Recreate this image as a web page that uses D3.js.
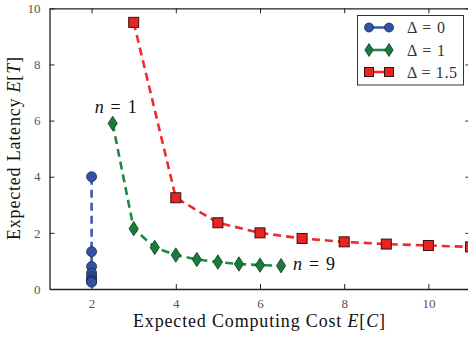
<!DOCTYPE html>
<html>
<head>
<meta charset="utf-8">
<script src="https://cdn.jsdelivr.net/npm/d3@7"></script>
<style>
  html, body { margin: 0; padding: 0; background: #fff; }
  svg { display: block; }
  text { font-family: "Liberation Serif", "DejaVu Serif", serif; }
</style>
</head>
<body>
<svg id="chart" width="468" height="337"></svg>
<script>
// Expected computing cost vs. expected latency for three values of Δ (n = 1 … 9)
const costDelta0 = [2, 2, 2, 2, 2, 2, 2, 2, 2];
const latencyDelta0 = [4.0, 1.33, 0.8, 0.57, 0.44, 0.36, 0.31, 0.27, 0.24];

const costDelta1 = [2.5, 3, 3.5, 4, 4.5, 5, 5.5, 6, 6.5];
const latencyDelta1 = [5.9, 2.15, 1.48, 1.21, 1.05, 0.96, 0.89, 0.85, 0.83];

const costDelta15 = [3, 4, 5, 6, 7, 8, 9, 10, 11];
const latencyDelta15 = [9.5, 3.25, 2.36, 2.0, 1.8, 1.68, 1.6, 1.55, 1.5];

const xTicks = [2, 4, 6, 8, 10];
const yTicks = [0, 2, 4, 6, 8, 10];
const legendLabels = ["\u0394 = 0", "\u0394 = 1", "\u0394 = 1.5"];

const svg = d3.select("#chart");
const plotLeft = 49.5, plotRight = 470.5, plotTop = 8.3, plotBottom = 289;

const x = d3.scaleLinear().domain([1, 11]).range([plotLeft, plotRight]);
const y = d3.scaleLinear().domain([0, 10]).range([plotBottom, plotTop]);

const series = [
  { cost: costDelta0, lat: latencyDelta0, line: "#3a5bb0", fill: "#3352a6", marker: "circle" },
  { cost: costDelta1, lat: latencyDelta1, line: "#1c8a45", fill: "#1b7a3c", marker: "diamond" },
  { cost: costDelta15, lat: latencyDelta15, line: "#ee2a2a", fill: "#e82323", marker: "square" }
];

svg.append("defs").append("clipPath").attr("id", "plotClip")
  .append("rect").attr("x", plotLeft).attr("y", plotTop)
  .attr("width", plotRight - plotLeft).attr("height", plotBottom - plotTop);

// Frame with inward ticks on all four sides
const tickColor = "#222";
const axisBottom = d3.axisBottom(x).tickValues(xTicks).tickSizeInner(-5).tickSizeOuter(0).tickPadding(10);
const axisLeft = d3.axisLeft(y).tickValues(yTicks).tickSizeInner(-5).tickSizeOuter(0).tickPadding(9);
const axisTop = d3.axisTop(x).tickValues(xTicks).tickSizeInner(-5).tickSizeOuter(0).tickFormat("");
const axisRight = d3.axisRight(y).tickValues(yTicks).tickSizeInner(-5).tickSizeOuter(0).tickFormat("");

function styleAxis(g) {
  g.attr("font-family", null);
  g.select(".domain").attr("stroke", tickColor).attr("stroke-width", 1.3);
  g.selectAll(".tick line").attr("stroke", tickColor).attr("stroke-width", 1);
  g.selectAll(".tick text").attr("fill", "#555").attr("font-size", 13);
}

svg.append("g").attr("transform", `translate(0,${plotBottom})`).call(axisBottom).call(styleAxis);
svg.append("g").attr("transform", `translate(${plotLeft},0)`).call(axisLeft).call(styleAxis);
svg.append("g").attr("transform", `translate(0,${plotTop})`).call(axisTop).call(styleAxis);
svg.append("g").attr("transform", `translate(${plotRight},0)`).call(axisRight).call(styleAxis);

function drawMarker(sel, kind, fill, cx, cy, s) {
  if (kind === "circle") {
    sel.append("circle").attr("cx", cx).attr("cy", cy).attr("r", 5 * s)
      .attr("fill", fill).attr("stroke", "#1e2a50").attr("stroke-width", 0.8);
  } else if (kind === "diamond") {
    const w = 4.6 * s, h = 7.2 * s;
    sel.append("path")
      .attr("d", `M${cx},${cy - h}L${cx + w},${cy}L${cx},${cy + h}L${cx - w},${cy}Z`)
      .attr("fill", fill).attr("stroke", "#0f3a1c").attr("stroke-width", 0.8);
  } else {
    const h = 5 * s;
    sel.append("rect").attr("x", cx - h).attr("y", cy - h).attr("width", 2 * h).attr("height", 2 * h)
      .attr("fill", fill).attr("stroke", "#3a1010").attr("stroke-width", 1);
  }
}

const plot = svg.append("g").attr("clip-path", "url(#plotClip)");
const line = d3.line().x(d => x(d[0])).y(d => y(d[1]));

series.forEach(s => {
  const pts = s.cost.map((c, i) => [c, s.lat[i]]);
  plot.append("path").datum(pts).attr("d", line)
    .attr("fill", "none").attr("stroke", s.line).attr("stroke-width", 2.6)
    .attr("stroke-dasharray", "8,5");
});
series.forEach(s => {
  const g = plot.append("g");
  s.cost.forEach((c, i) => drawMarker(g, s.marker, s.fill, x(c), y(s.lat[i]), 1));
});

// Annotations for the first and last n
const annot = [
  { text: "1", at: [2.5, 5.9], dx: 3, dy: -10, anchor: "middle" },
  { text: "9", at: [6.5, 0.83], dx: 12, dy: 4.5, anchor: "start" }
];
annot.forEach(a => {
  const t = svg.append("text")
    .attr("x", x(a.at[0]) + a.dx).attr("y", y(a.at[1]) + a.dy)
    .attr("font-size", 18).attr("fill", "#111")
    .attr("text-anchor", a.anchor)
    .attr("textLength", 42).attr("lengthAdjust", "spacing");
  t.append("tspan").attr("font-style", "italic").text("n");
  t.append("tspan").text(" = " + a.text);
});

// Legend
const lg = svg.append("g");
lg.append("rect").attr("x", 357.5).attr("y", 15.5).attr("width", 106).attr("height", 69.5)
  .attr("fill", "#fff").attr("stroke", "#333").attr("stroke-width", 1);
const rowY = [27.5, 50, 72];
const legendWidths = [38, 38, 50];
series.forEach((s, i) => {
  lg.append("line").attr("x1", 369).attr("x2", 389).attr("y1", rowY[i]).attr("y2", rowY[i])
    .attr("stroke", s.line).attr("stroke-width", 2.6);
  drawMarker(lg, s.marker, s.fill, 369, rowY[i], 0.9);
  drawMarker(lg, s.marker, s.fill, 389, rowY[i], 0.9);
  lg.append("text").attr("x", 407).attr("y", rowY[i] + 5.5).attr("font-size", 16)
    .attr("fill", "#333").attr("textLength", legendWidths[i]).attr("lengthAdjust", "spacing")
    .text(legendLabels[i]);
});

// Axis titles
const xt = svg.append("text").attr("x", 259).attr("y", 327).attr("text-anchor", "middle")
  .attr("font-size", 18).attr("fill", "#111")
  .attr("textLength", 252).attr("lengthAdjust", "spacing");
xt.append("tspan").text("Expected Computing Cost ");
xt.append("tspan").attr("font-style", "italic").text("E");
xt.append("tspan").text("[");
xt.append("tspan").attr("font-style", "italic").text("C");
xt.append("tspan").text("]");

const yt = svg.append("text").attr("transform", "translate(20,148.5) rotate(-90)")
  .attr("text-anchor", "middle").attr("font-size", 18).attr("fill", "#111")
  .attr("textLength", 183).attr("lengthAdjust", "spacing");
yt.append("tspan").text("Expected Latency ");
yt.append("tspan").attr("font-style", "italic").text("E");
yt.append("tspan").text("[");
yt.append("tspan").attr("font-style", "italic").text("T");
yt.append("tspan").text("]");
</script>
</body>
</html>
